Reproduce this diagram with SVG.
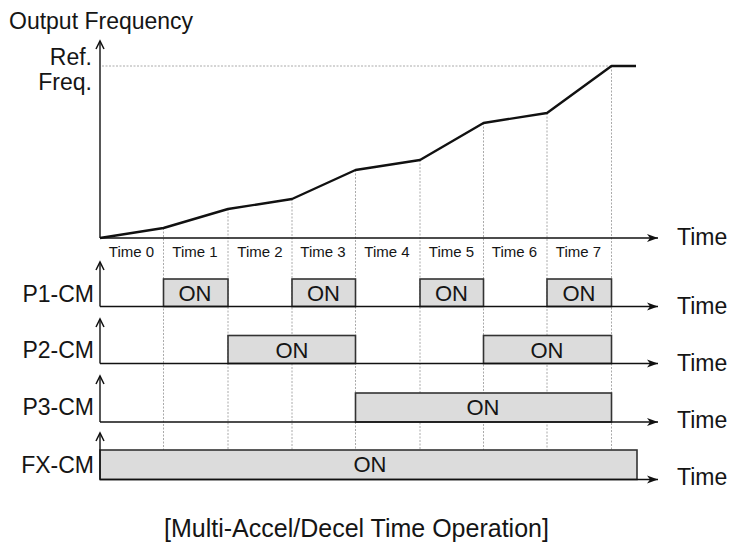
<svg xmlns="http://www.w3.org/2000/svg" width="730" height="544" viewBox="0 0 730 544">
<style>
text{font-family:"Liberation Sans",Arial,sans-serif;fill:#151515}
.ax{stroke:#111;stroke-width:1.4;fill:none}
.dash{stroke:#aaa;stroke-width:1;stroke-dasharray:2 1.5;fill:none}
.box{fill:#dcdcdc;stroke:#333;stroke-width:1.6}
.on{font-size:22px;text-anchor:middle}
.tl{font-size:15px;text-anchor:middle}
.time{font-size:23px}
.sig{font-size:23px;text-anchor:end}
</style>
<defs>
<marker id="ar" viewBox="0 0 12 10" refX="11" refY="5" markerWidth="12" markerHeight="10" markerUnits="userSpaceOnUse" orient="auto">
<path d="M0,1 L11,5 L0,9 L3,5 Z" fill="#111"/>
</marker>
<marker id="au" viewBox="0 0 12 10" refX="10" refY="5" markerWidth="12" markerHeight="10" markerUnits="userSpaceOnUse" orient="auto">
<path d="M2,1 L10,5 L2,9" fill="none" stroke="#111" stroke-width="1.5"/>
</marker>
</defs>
<g id="guides">
<line class="dash" x1="102" y1="66" x2="611" y2="66"/>
<line class="dash" x1="163.5" y1="228" x2="163.5" y2="450"/>
<line class="dash" x1="228" y1="209" x2="228" y2="450"/>
<line class="dash" x1="292" y1="199" x2="292" y2="450"/>
<line class="dash" x1="355.5" y1="170" x2="355.5" y2="450"/>
<line class="dash" x1="420" y1="160" x2="420" y2="450"/>
<line class="dash" x1="483.5" y1="123" x2="483.5" y2="450"/>
<line class="dash" x1="547" y1="113" x2="547" y2="450"/>
<line class="dash" x1="611.5" y1="66" x2="611.5" y2="450"/>
</g>
<g id="freq-chart">
<text x="9" y="29" font-size="23">Output Frequency</text>
<text x="92" y="65" font-size="23" text-anchor="end">Ref.</text>
<text x="92" y="90" font-size="23" text-anchor="end">Freq.</text>
<polyline points="100,238 163.5,228 228,209 292,199 355.5,170 420,160 483.5,123 547,113 611.5,66 636,66" fill="none" stroke="#111" stroke-width="2.4" stroke-linejoin="round"/>
<text class="tl" x="131.5" y="257">Time 0</text>
<text class="tl" x="195" y="257">Time 1</text>
<text class="tl" x="260" y="257">Time 2</text>
<text class="tl" x="323" y="257">Time 3</text>
<text class="tl" x="387" y="257">Time 4</text>
<text class="tl" x="451.5" y="257">Time 5</text>
<text class="tl" x="514.5" y="257">Time 6</text>
<text class="tl" x="578.5" y="257">Time 7</text>
</g>
<g id="P1-CM">
<text class="sig" x="94" y="302">P1-CM</text>
<rect class="box" x="163.5" y="279" width="64.5" height="27.5"/>
<rect class="box" x="292" y="279" width="63.5" height="27.5"/>
<rect class="box" x="420" y="279" width="63.5" height="27.5"/>
<rect class="box" x="547" y="279" width="64.5" height="27.5"/>
<text class="on" x="195" y="300.5">ON</text>
<text class="on" x="323.5" y="300.5">ON</text>
<text class="on" x="451.5" y="300.5">ON</text>
<text class="on" x="579" y="300.5">ON</text>
</g>
<g id="P2-CM">
<text class="sig" x="94" y="358">P2-CM</text>
<rect class="box" x="228" y="335.5" width="127.5" height="28"/>
<rect class="box" x="483.5" y="335.5" width="128" height="28"/>
<text class="on" x="292" y="357.5">ON</text>
<text class="on" x="547" y="357.5">ON</text>
</g>
<g id="P3-CM">
<text class="sig" x="94" y="415">P3-CM</text>
<rect class="box" x="355.5" y="393" width="256" height="29"/>
<text class="on" x="483" y="414.5">ON</text>
</g>
<g id="FX-CM">
<text class="sig" x="94" y="473">FX-CM</text>
<rect class="box" x="100" y="450" width="537" height="29.5"/>
<text class="on" x="370" y="472">ON</text>
</g>
<g id="connectors">
<line class="ax" x1="100" y1="238" x2="100" y2="41" marker-end="url(#au)"/>
<line class="ax" x1="100" y1="238" x2="658" y2="238" marker-end="url(#ar)"/>
<line class="ax" x1="100" y1="306.5" x2="100" y2="262" marker-end="url(#au)"/>
<line class="ax" x1="100" y1="306.5" x2="658" y2="306.5" marker-end="url(#ar)"/>
<line class="ax" x1="100" y1="363.5" x2="100" y2="319" marker-end="url(#au)"/>
<line class="ax" x1="100" y1="363.5" x2="658" y2="363.5" marker-end="url(#ar)"/>
<line class="ax" x1="100" y1="422" x2="100" y2="376" marker-end="url(#au)"/>
<line class="ax" x1="100" y1="422" x2="658" y2="422" marker-end="url(#ar)"/>
<line class="ax" x1="100" y1="479.5" x2="100" y2="433" marker-end="url(#au)"/>
<line class="ax" x1="100" y1="479.5" x2="658" y2="479.5" marker-end="url(#ar)"/>
</g>
<g id="time-labels">
<text class="time" x="677" y="245">Time</text>
<text class="time" x="677" y="314">Time</text>
<text class="time" x="677" y="371">Time</text>
<text class="time" x="677" y="428">Time</text>
<text class="time" x="677" y="485">Time</text>
</g>
<text x="356.5" y="537" font-size="25" text-anchor="middle">[Multi-Accel/Decel Time Operation]</text>
</svg>
